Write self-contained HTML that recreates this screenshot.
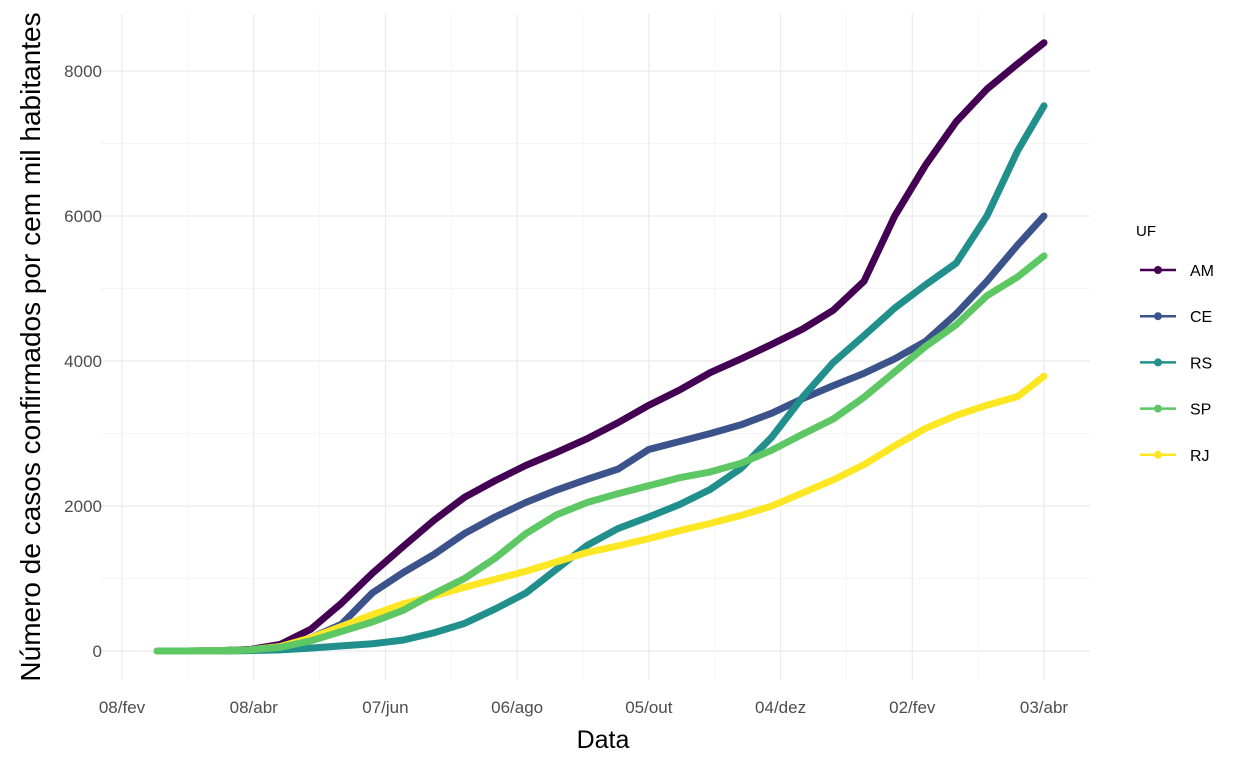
<!DOCTYPE html>
<html><head><meta charset="utf-8"><style>
body{margin:0;background:#fff;}
svg{display:block;font-family:"Liberation Sans",sans-serif;}
</style></head><body>
<svg id="chart" width="1248" height="768">
<g id="grid"></g><g id="series"></g><g id="axes"></g><g id="legend"></g>
</svg>
<script>
const days=[16,30,44,58,72,86,100,114,128,142,156,170,184,198,212,226,240,254,268,282,296,310,324,338,352,366,380,394,408,420];
const AM=[0,0,5,20,90,300,660,1070,1440,1800,2120,2350,2560,2740,2930,3150,3390,3600,3840,4030,4230,4440,4700,5100,6000,6700,7300,7750,8100,8390];
const CE=[0,0,3,15,60,180,370,800,1080,1330,1620,1850,2050,2220,2370,2510,2780,2890,3000,3120,3280,3480,3660,3830,4030,4270,4650,5100,5600,6000];
const RS=[0,0,0,5,15,40,70,100,150,250,380,580,800,1130,1460,1690,1850,2020,2230,2520,2950,3500,3980,4350,4730,5050,5350,6000,6900,7520];
const SP=[0,0,3,15,50,140,270,400,560,790,1000,1280,1620,1880,2050,2170,2280,2390,2470,2590,2770,2990,3200,3500,3850,4200,4500,4900,5160,5450];
const RJ=[0,0,3,15,60,180,340,500,650,760,880,990,1100,1230,1360,1450,1550,1660,1760,1870,2000,2180,2360,2570,2830,3070,3250,3390,3510,3790];
const seriesNames=["AM","CE","RS","SP","RJ"];
const colors={AM:"#440154",CE:"#3B528B",RS:"#21908C",SP:"#5DC863",RJ:"#FDE725"};
const xTickDays=[0,60,120,180,240,300,360,420];
const xTickLabels=["08/fev","08/abr","07/jun","06/ago","05/out","04/dez","02/fev","03/abr"];
const yTicks=[0,2000,4000,6000,8000];
const data={AM,CE,RS,SP,RJ};
const NS="http://www.w3.org/2000/svg";
const X=d=>122+d*(1044-122)/420;
const Y=v=>651-v*(651-71)/8000;
const L=100,R=1090,T=14,B=680;
function mk(tag,attrs,parent){const e=document.createElementNS(NS,tag);for(const k in attrs)e.setAttribute(k,attrs[k]);parent.appendChild(e);return e;}
const grid=document.getElementById('grid'),ser=document.getElementById('series'),ax=document.getElementById('axes'),lg=document.getElementById('legend');
for(let i=0;i<yTicks.length;i++){
  const y=Y(yTicks[i]);
  const g=mk('line',{x1:L,x2:R,y1:y,y2:y,stroke:'#ebebeb','stroke-width':1.2},grid);
  
  
  if(i<yTicks.length-1){const ym=Y((yTicks[i]+yTicks[i+1])/2);mk('line',{x1:L,x2:R,y1:ym,y2:ym,stroke:'#f5f5f5','stroke-width':1},grid);}
  const t=mk('text',{x:102,y:y+6,'text-anchor':'end','font-size':17,fill:'#4d4d4d'},ax);
  t.textContent=yTicks[i];
  
  
}
for(let i=0;i<xTickDays.length;i++){
  const x=X(xTickDays[i]);
  const g=mk('line',{x1:x,x2:x,y1:T,y2:B,stroke:'#ebebeb','stroke-width':1.2},grid);
  
  
  if(i<xTickDays.length-1){const xm=X((xTickDays[i]+xTickDays[i+1])/2);mk('line',{x1:xm,x2:xm,y1:T,y2:B,stroke:'#f5f5f5','stroke-width':1},grid);}
  const t=mk('text',{x:x,y:713,'text-anchor':'middle','font-size':17,fill:'#4d4d4d'},ax);
  t.textContent=xTickLabels[i];
  
  
}
const drawOrder=["AM","CE","RS","RJ","SP"];
drawOrder.forEach(n=>{
  const pts=days.map((d,i)=>X(d)+','+Y(data[n][i])).join(' ');
  const p=mk('polyline',{points:pts,fill:'none',stroke:colors[n],'stroke-width':7,'stroke-linejoin':'round','stroke-linecap':'round'},ser);
  
  
});
const xt=mk('text',{x:603,y:748,'text-anchor':'middle','font-size':25,fill:'#000'},ax);
xt.textContent='Data';


const yt=mk('text',{x:0,y:0,transform:'translate(40,347) rotate(-90)','text-anchor':'middle','font-size':28,fill:'#000'},ax);
yt.textContent='Número de casos confirmados por cem mil habitantes';


const lt=mk('text',{x:1136,y:236,'font-size':15,fill:'#000'},lg);
lt.textContent='UF';


seriesNames.forEach((n,i)=>{
  const y=270+i*46.2;
  const g=mk('g',{},lg);
  
  
  mk('line',{x1:1140,x2:1176,y1:y,y2:y,stroke:colors[n],'stroke-width':2.5},g);
  mk('circle',{cx:1158,cy:y,r:4,fill:colors[n]},g);
  const t=mk('text',{x:1190,y:y+6,'font-size':16,fill:'#000'},g);
  t.textContent=n;
});
</script>
</body></html>
